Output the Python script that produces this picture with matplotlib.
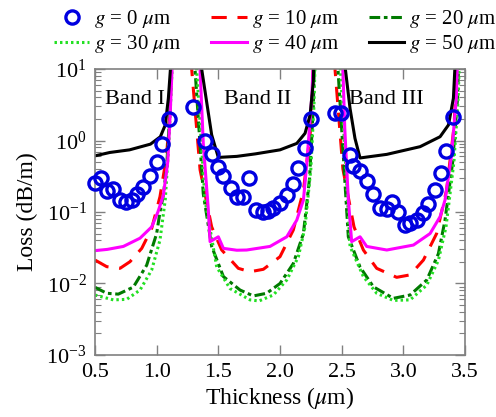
import matplotlib
matplotlib.use('Agg')
import matplotlib.pyplot as plt
import numpy as np

plt.rcParams['font.family'] = ['Liberation Serif', 'DejaVu Serif']
plt.rcParams['mathtext.fontset'] = 'stix'

nan = np.nan

# g = 0 um (circles)
t_g0 = [0.5, 0.546, 0.595, 0.644, 0.703, 0.751, 0.798, 0.838, 0.887, 0.946, 1.0, 1.041, 1.103,
        1.295, 1.392, 1.446, 1.5, 1.541, 1.6, 1.649, 1.697, 1.751, 1.806, 1.86, 1.905, 1.946,
        2.0, 2.055, 2.103, 2.149, 2.203, 2.25,
        2.446, 2.493, 2.568, 2.595, 2.649, 2.703, 2.757, 2.811, 2.866, 2.906, 2.96, 3.014,
        3.055, 3.109, 3.163, 3.203, 3.257, 3.303, 3.346, 3.406]
loss_g0 = [0.255, 0.30, 0.197, 0.21, 0.147, 0.138, 0.147, 0.179, 0.224, 0.32, 0.50, 0.885, 2.0,
           2.95, 1.0, 0.65, 0.43, 0.32, 0.215, 0.164, 0.164, 0.30, 0.107, 0.10, 0.102, 0.115,
           0.135, 0.173, 0.25, 0.41, 0.79, 2.0,
           2.4, 2.4, 0.63, 0.44, 0.37, 0.27, 0.177, 0.113, 0.11, 0.14, 0.10, 0.066,
           0.07, 0.078, 0.096, 0.13, 0.20, 0.35, 0.71, 2.15]

# g = 10 um
t_g10 = [0.5, 0.595, 0.703, 0.784, 0.879, 0.96, 1.027, 1.08, 1.11, 1.125, nan,
         1.275, 1.284, 1.352, 1.446, 1.527, 1.662, 1.757, 1.865, 2.0, 2.108, 2.19, 2.25, 2.28, nan,
         2.44, 2.446, 2.51, 2.60, 2.676, 2.784, 2.946, 3.055, 3.163, 3.27, 3.35, 3.41, 3.45]
loss_g10 = [0.0213, 0.0172, 0.0163, 0.0202, 0.031, 0.059, 0.164, 0.6, 3, 30, nan,
            30, 10, 0.39, 0.062, 0.0295, 0.0163, 0.0146, 0.0158, 0.0237, 0.056, 0.2, 1.5, 30, nan,
            30, 10, 0.4, 0.062, 0.0294, 0.0163, 0.0122, 0.0132, 0.0213, 0.05, 0.2, 1.5, 30]

# g = 20 um
t_g20 = [0.5, 0.595, 0.689, 0.811, 0.919, 1.0, 1.027, 1.054, 1.081, 1.11, 1.125, nan,
         1.30, 1.311, 1.378, 1.446, 1.541, 1.676, 1.784, 1.892, 2.0, 2.108, 2.19, 2.24, 2.27, 2.285, nan,
         2.46, 2.47, 2.554, 2.649, 2.757, 2.919, 3.055, 3.19, 3.284, 3.338, 3.40, 3.44, 3.455]
loss_g20 = [0.00885, 0.0073, 0.0071, 0.0089, 0.018, 0.05, 0.1, 0.17, 0.43, 3, 30, nan,
            30, 10, 0.18, 0.033, 0.0125, 0.0081, 0.0067, 0.0073, 0.01, 0.019, 0.05, 0.3, 3, 30, nan,
            30, 10, 0.045, 0.017, 0.009, 0.0062, 0.0069, 0.0112, 0.026, 0.077, 0.5, 4, 30]

# g = 30 um
t_g30 = [0.5, 0.649, 0.757, 0.865, 0.96, 1.027, 1.07, 1.10, 1.125, 1.13, nan,
         1.31, 1.324, 1.392, 1.487, 1.595, 1.757, 1.83, 1.946, 2.055, 2.149, 2.203, 2.25, 2.275, 2.29, nan,
         2.48, 2.49, 2.568, 2.676, 2.784, 2.919, 3.055, 3.19, 3.284, 3.346, 3.41, 3.445, 3.46]
loss_g30 = [0.0069, 0.0059, 0.006, 0.0081, 0.0155, 0.0405, 0.15, 1, 10, 30, nan,
            30, 10, 0.147, 0.017, 0.0085, 0.0059, 0.0057, 0.0069, 0.0112, 0.0237, 0.062, 0.4, 3, 30, nan,
            30, 10, 0.033, 0.0125, 0.0073, 0.0058, 0.0059, 0.0095, 0.021, 0.062, 0.5, 4, 30]

# g = 40 um
t_g40 = [0.5, 0.6, 0.73, 0.865, 0.96, 1.01, 1.054, 1.09, 1.108, 1.125, 1.13, nan,
         1.345, 1.352, 1.378, 1.419, 1.433, 1.50, 1.541, 1.65, 1.73, 1.919, 2.055, 2.136, 2.19,
         2.216, 2.257, 2.28, nan,
         2.505, 2.51, 2.525, 2.554, 2.581, 2.649, 2.703, 2.866, 3.082, 3.217, 3.298, 3.338,
         3.39, 3.43, 3.445]
loss_g40 = [0.0288, 0.030, 0.033, 0.043, 0.062, 0.1, 0.17, 0.5, 2.0, 10, 30, nan,
            30, 10, 0.91, 0.107, 0.0385, 0.045, 0.031, 0.0292, 0.0294, 0.033, 0.045, 0.077, 0.147,
            0.45, 3.9, 30, nan,
            30, 10, 1.5, 0.15, 0.0385, 0.045, 0.033, 0.0294, 0.0345, 0.05, 0.086, 0.147,
            0.6, 4, 30]

# g = 50 um
t_g50 = [0.5, 0.62, 0.78, 0.95, 1.03, 1.07, 1.095, 1.115, 1.12, nan,
         1.355, 1.365, 1.405, 1.446, 1.5, 1.65, 1.8, 2.0, 2.136, 2.203, 2.244, 2.27, 2.28, nan,
         2.52, 2.53, 2.568, 2.608, 2.649, 2.866, 3.136, 3.298, 3.366, 3.406, 3.42, 3.425]
loss_g50 = [0.61, 0.68, 0.74, 0.89, 1.13, 1.65, 3.9, 12, 30, nan,
            30, 10, 3.5, 1.2, 0.58, 0.6, 0.65, 0.74, 0.91, 1.26, 2.27, 6.6, 30, nan,
            30, 10, 2.8, 1.07, 0.57, 0.64, 0.82, 1.13, 1.65, 3.9, 12, 30]

band_labels = ['Band I', 'Band II', 'Band III']
band_x = [0.82, 1.82, 2.86]

fig = plt.figure(figsize=(4.96, 4.17), dpi=100)
ax = fig.add_axes([0.1915, 0.1487, 0.746, 0.6858])

lw = 2.2
h0, = ax.plot(t_g0, loss_g0, 'o', mfc='none', mec='#0000e0', mew=2.4, ms=9.5, ls='none',
              clip_on=False, zorder=5)
h10, = ax.plot(t_g10, loss_g10, color='#ff0000', lw=lw, dashes=(5, 3.5))
h20, = ax.plot(t_g20, loss_g20, color='#007a00', lw=lw, dashes=(3.5, 1.2, 1.2, 1.2))
h30, = ax.plot(t_g30, loss_g30, color='#22e022', lw=lw, dashes=(0.8, 1.0))
h40, = ax.plot(t_g40, loss_g40, color='#ff00ff', lw=lw)
h50, = ax.plot(t_g50, loss_g50, color='black', lw=lw)

ax.set_yscale('log')
ax.set_xlim(0.5, 3.5)
ax.set_ylim(1e-3, 1e1)
ax.set_xticks([0.5, 1.0, 1.5, 2.0, 2.5, 3.0, 3.5])
ax.set_xticklabels(['0.5', '1.0', '1.5', '2.0', '2.5', '3.0', '3.5'])

ax.tick_params(which='both', direction='in', top=True, right=True, color='#808080')
ax.tick_params(which='major', length=7, width=1, labelsize=16, pad=6)
ax.tick_params(which='minor', length=4, width=0.8)
ax.tick_params(axis='x', which='minor', bottom=False, top=False)
for s in ax.spines.values():
    s.set_color('#808080')
    s.set_linewidth(1.2)

ax.set_xlabel(r'Thickness ($\mu$m)', fontsize=17, labelpad=2)
ax.set_ylabel('Loss (dB/m)', fontsize=17, labelpad=6)

for lab, x in zip(band_labels, band_x):
    ax.text(x, 3.7, lab, fontsize=16, ha='center', va='center')

handles = [h0, h30, h10, h40, h20, h50]
labels = [r'$g$ = 0 $\mu$m', r'$g$ = 30 $\mu$m', r'$g$ = 10 $\mu$m',
          r'$g$ = 40 $\mu$m', r'$g$ = 20 $\mu$m', r'$g$ = 50 $\mu$m']
fig.legend(handles, labels, ncol=3, loc='upper center', bbox_to_anchor=(0.555, 1.01),
           frameon=False, fontsize=15, handlelength=1.7, handletextpad=0.25,
           columnspacing=1.4, labelspacing=0.15, borderaxespad=0.2)

fig.savefig('out.png', dpi=100)
